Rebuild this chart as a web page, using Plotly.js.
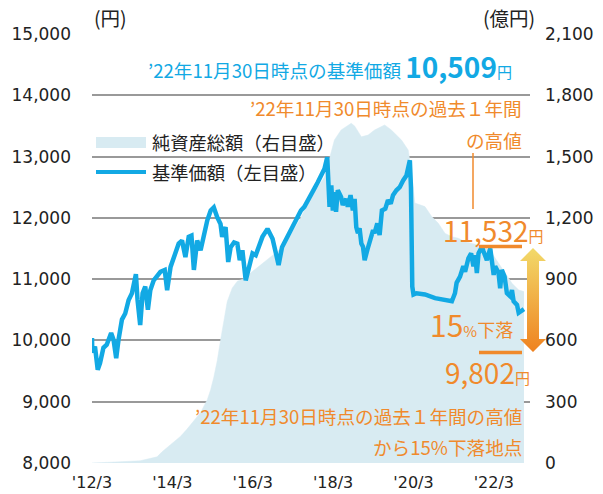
<!DOCTYPE html>
<html>
<head>
<meta charset="utf-8">
<script src="https://cdn.plot.ly/plotly-3.0.1.min.js"></script>
<style>html,body{margin:0;padding:0;background:#fff;}#chart{width:603px;height:494px;}</style>
</head>
<body>
<div id="chart"></div>
<script>
// ---- data ----
const navDates = ["2012-03-01","2012-03-04","2012-03-28","2012-04-22","2012-05-13","2012-06-13","2012-07-13","2012-08-22","2012-09-13","2012-10-07","2012-10-28","2012-11-28","2012-12-28","2013-01-28","2013-02-27","2013-04-04","2013-04-19","2013-05-13","2013-06-04","2013-06-28","2013-07-22","2013-08-13","2013-09-13","2013-10-13","2013-11-13","2013-12-22","2014-01-13","2014-02-13","2014-03-13","2014-04-28","2014-05-28","2014-06-28","2014-07-28","2014-08-22","2014-09-13","2014-10-13","2014-11-13","2014-12-13","2015-01-13","2015-02-13","2015-03-13","2015-04-13","2015-05-13","2015-05-28","2015-06-28","2015-07-22","2015-08-13","2015-09-13","2015-10-13","2015-11-04","2015-11-28","2015-12-28","2016-01-28","2016-02-28","2016-03-28","2016-04-28","2016-05-28","2016-07-13","2016-08-28","2016-09-28","2016-10-22","2016-11-22","2016-12-28","2017-02-13","2017-03-13","2017-04-13","2017-05-13","2017-06-13","2017-07-13","2017-08-13","2017-09-13","2017-10-13","2017-11-13","2017-12-13","2018-01-07","2018-01-19","2018-01-28","2018-02-13","2018-02-27","2018-03-13","2018-03-28","2018-04-13","2018-05-13","2018-05-28","2018-06-28","2018-07-13","2018-08-07","2018-08-28","2018-09-13","2018-09-28","2018-10-13","2018-10-28","2018-11-13","2018-11-28","2018-12-13","2019-01-07","2019-01-28","2019-02-28","2019-03-13","2019-04-07","2019-04-28","2019-05-19","2019-06-19","2019-07-13","2019-08-07","2019-08-28","2019-09-28","2019-10-28","2019-11-28","2019-12-28","2020-01-28","2020-02-07","2020-02-19","2020-03-01","2020-03-28","2020-06-13","2020-09-13","2020-12-13","2021-02-13","2021-03-13","2021-03-28","2021-04-28","2021-05-28","2021-06-13","2021-07-13","2021-08-07","2021-08-28","2021-09-13","2021-09-28","2021-10-13","2021-11-13","2021-11-28","2021-12-28","2022-01-28","2022-02-13","2022-02-28","2022-03-13","2022-04-13","2022-04-28","2022-05-13","2022-06-07","2022-06-28","2022-07-28","2022-08-13","2022-08-28","2022-09-28","2022-10-13","2022-11-30"];
const navValues = [10040,9800,9900,9520,9630,9880,9930,10120,10010,9710,10010,10340,10440,10660,10770,11080,10660,10250,10770,10880,10500,10820,10980,11060,11120,11150,10820,11200,11340,11580,11630,11360,11690,11710,11150,11630,11470,11740,11960,12120,12170,12010,11900,11690,11850,11280,11520,11600,11580,11310,11470,10980,11200,11420,11390,11520,11690,11820,11660,11420,11230,11520,11640,11800,11880,12000,12120,12180,12290,12370,12480,12580,12690,12800,12990,12610,12180,12530,12120,12420,12100,12450,12340,12210,12310,12180,12370,12120,12310,11850,11750,11830,11580,11530,11310,11480,11640,11800,11750,11910,11720,12120,12150,12290,12230,12370,12450,12500,12610,12690,12940,12500,10880,10750,10770,10750,10690,10660,10640,10770,10940,11040,11210,11120,11340,11420,11210,11390,11100,11420,11530,11450,11310,11500,11260,11070,11210,11100,10850,11150,11040,10770,10720,10820,10640,10580,10450,10509];

const assetDates = ["2012-03-01","2012-10-01","2012-11-13","2013-05-13","2013-10-13","2013-11-28","2014-01-13","2014-03-13","2014-05-13","2014-07-13","2014-09-13","2014-11-13","2015-01-13","2015-02-13","2015-03-13","2015-04-13","2015-05-13","2015-06-13","2015-07-13","2015-08-28","2015-10-13","2015-12-01","2016-02-13","2016-05-13","2016-08-13","2016-11-13","2017-02-13","2017-05-01","2017-08-13","2017-12-13","2018-01-13","2018-02-01","2018-03-13","2018-05-13","2018-08-13","2018-09-13","2018-11-13","2019-01-13","2019-03-13","2019-06-13","2019-08-13","2019-11-13","2020-01-13","2020-02-13","2020-03-13","2020-06-13","2020-08-13","2020-10-13","2020-12-13","2021-02-13","2021-04-13","2021-06-13","2021-08-13","2021-10-13","2021-12-13","2022-02-13","2022-04-13","2022-06-13","2022-08-13","2022-10-13","2022-11-30"];
const assetValues = [0,2,6,11,30,55,75,100,130,166,205,247,310,360,420,500,600,700,790,857,890,900,930,970,1010,1050,1120,1190,1300,1400,1460,1500,1581,1630,1663,1650,1597,1605,1630,1655,1630,1581,1532,1419,1273,1255,1207,1173,1124,1108,1100,1083,1075,1067,1059,1026,977,929,880,847,839];

const xTickVals = ["2012-03-01","2014-03-01","2016-03-01","2018-03-01","2020-03-01","2022-03-01"];
const xTickText = ["'12/3","'14/3","'16/3","'18/3","'20/3","'22/3"];
const highValue = 11532;
const lowValue = 9802;

// ---- style ----
const BLUE = '#12a9e4';
const AREA = '#d8ebf2';
const ORANGE = '#f08a2c';
const GRID = '#999999';
const JP = "'Noto Sans CJK JP', sans-serif";
const NUM = "'DejaVu Sans', sans-serif";
const TXT = 18.6;

// plot box in pixels: x 92..530, y 34..463
const L = 92, R = 530, T = 34, B = 463;
const px = v => (v - L) / (R - L);
const py = v => (B - v) / (B - T);

const arrowSvg = "<svg xmlns='http://www.w3.org/2000/svg' width='28' height='106' viewBox='0 0 28 106'><defs><linearGradient id='g' x1='0' y1='0' x2='0' y2='1'><stop offset='0' stop-color='#f2da6a'/><stop offset='1' stop-color='#ef8220'/></linearGradient></defs><polygon points='14,1 27,14 20,14 20,92 27,92 14,105 1,92 8,92 8,14 1,14' fill='url(#g)'/></svg>";

const traces = [
  {x: assetDates, y: assetValues, type: 'scatter', mode: 'lines', fill: 'tozeroy',
   fillcolor: AREA, line: {color: AREA, width: 0.5}, yaxis: 'y', hoverinfo: 'skip', showlegend: false},
  {x: navDates, y: navValues, type: 'scatter', mode: 'lines',
   line: {color: BLUE, width: 4.5}, yaxis: 'y2', showlegend: false}
];

function ann(text, x, y, xanchor, size, color, extra) {
  return Object.assign({text: text, xref: 'paper', yref: 'paper', x: px(x), y: py(y),
    xanchor: xanchor, yanchor: 'middle', showarrow: false,
    font: {family: JP, size: size, color: color}}, extra || {});
}

const layout = {
  width: 603, height: 494,
  margin: {l: L, r: 603 - R, t: T, b: 494 - B, pad: 0},
  paper_bgcolor: '#fff', plot_bgcolor: 'rgba(0,0,0,0)',
  showlegend: false,
  xaxis: {type: 'date', range: ['2012-03-01', '2023-01-24'], tickvals: xTickVals, ticktext: xTickText,
    showgrid: false, zeroline: false, showline: false, ticks: '', ticklabelstandoff: 8,
    tickfont: {family: NUM, size: 16, color: '#222'}},
  yaxis: {range: [0, 2100], dtick: 300, tick0: 0, side: 'right', tickformat: ',d',
    showgrid: true, gridcolor: GRID, gridwidth: 2, zeroline: false, showline: false, ticks: '',
    ticklabelstandoff: 14, tickfont: {family: NUM, size: 17, color: '#222'}},
  yaxis2: {range: [8000, 15000], dtick: 1000, tick0: 8000, side: 'left', overlaying: 'y', tickformat: ',d',
    showgrid: false, zeroline: false, showline: false, ticks: '',
    ticklabelstandoff: 20, tickfont: {family: NUM, size: 17, color: '#222'}},
  shapes: [
    {type: 'rect', xref: 'paper', yref: 'paper', x0: px(96), x1: px(146), y0: py(137), y1: py(148), fillcolor: AREA, line: {width: 0}},
    {type: 'line', xref: 'paper', yref: 'paper', x0: px(96), x1: px(146), y0: py(172), y1: py(172), line: {color: BLUE, width: 4}},
    {type: 'line', xref: 'paper', yref: 'paper', x0: px(473), x1: px(473), y0: py(153), y1: py(209), line: {color: ORANGE, width: 1.5}},
    {type: 'line', xref: 'paper', yref: 'y2', x0: px(479), x1: px(522), y0: highValue, y1: highValue, line: {color: ORANGE, width: 3.5}},
    {type: 'line', xref: 'paper', yref: 'y2', x0: px(479), x1: px(522), y0: lowValue, y1: lowValue, line: {color: ORANGE, width: 3.5}}
  ],
  images: [
    {source: 'data:image/svg+xml;charset=utf-8,' + encodeURIComponent(arrowSvg), xref: 'paper', yref: 'paper',
     x: px(519), y: py(247), sizex: 28 / (R - L), sizey: 106 / (B - T), xanchor: 'left', yanchor: 'top',
     sizing: 'stretch', layer: 'above'}
  ],
  annotations: [
    ann('(円)', 110, 18, 'center', 19.5, '#222'),
    ann('(億円)', 537, 18, 'right', 19.5, '#222'),
    ann('純資産総額（右目盛）', 150, 142, 'left', 18.3, '#222'),
    ann('基準価額（左目盛）', 150, 172, 'left', 18.3, '#222'),
    ann("’22年11月30日時点の基準価額 <b><span style='font-size:28px'>10,509</span></b><span style='font-size:15px'>円</span>", 514, 66, 'right', TXT, BLUE),
    ann("’22年11月30日時点の過去１年間", 524, 107, 'right', TXT, ORANGE),
    ann("の高値", 524, 139, 'right', TXT, ORANGE),
    ann("<span style='font-size:28px'>11,532</span><span style='font-size:15px'>円</span>", 546, 230, 'right', 17, ORANGE),
    ann("<span style='font-size:30px'>15</span><span style='font-size:15px'>%</span>下落", 515, 324, 'right', 18, ORANGE),
    ann("<span style='font-size:28px'>9,802</span><span style='font-size:15px'>円</span>", 532, 372, 'right', 17, ORANGE),
    ann("’22年11月30日時点の過去１年間の高値", 524, 415, 'right', TXT, ORANGE),
    ann("から15%下落地点", 524, 446, 'right', TXT, ORANGE)
  ]
};

Plotly.newPlot('chart', traces, layout, {staticPlot: true, displayModeBar: false});
</script>
</body>
</html>
